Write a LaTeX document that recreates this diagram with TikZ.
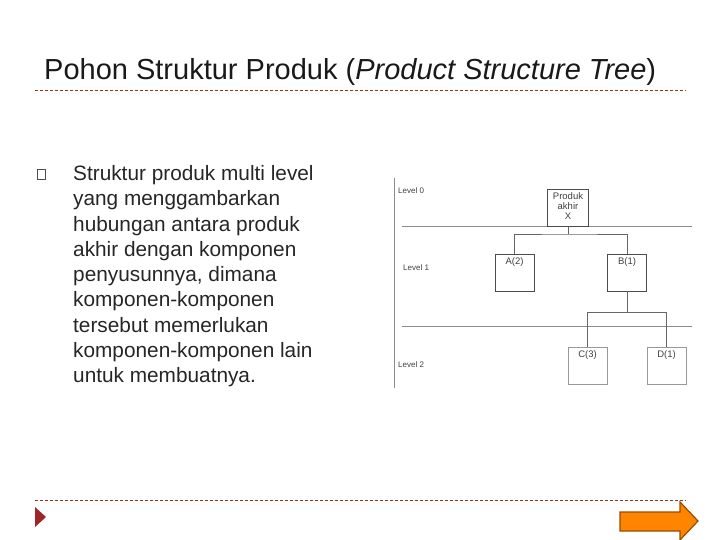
\documentclass[tikz,border=0pt]{standalone}
\usepackage{fontspec}
\setmainfont{Liberation Sans}
\begin{document}
\begin{tikzpicture}[x=1pt,y=-1pt,
  lvl/.style={font=\fontsize{8}{9}\selectfont,text=black!75,anchor=west,inner sep=0},
  bx/.style={draw=black!70,line width=0.7pt,minimum width=39pt,minimum height=37pt,inner sep=0},
  lbl/.style={font=\fontsize{9.5}{10}\selectfont,text=black!75},
  thin/.style={draw=black!45,line width=0.5pt},
  txt/.style={font=\fontsize{20.8}{24}\selectfont,anchor=base west,inner sep=0,text=black!85}]
\useasboundingbox (0,0) rectangle (720,540);
\node[anchor=base west,inner sep=0,font=\fontsize{29}{32}\selectfont,text=black!90] (title) at (44,80) {Pohon Struktur Produk (\textit{Product Structure Tree})};
\draw[draw=black!50!red!60!brown,dashed,dash pattern=on 3pt off 2pt,line width=0.5pt] (35,90) -- (686,90);
\draw[draw=black!50!red!60!brown,dashed,dash pattern=on 3pt off 2pt,line width=0.5pt] (35,500) -- (686,500);
\node[draw=black!70,line width=0.4pt,minimum width=8pt,minimum height=10pt,inner sep=0] (bul) at (41,174) {};
\node[txt] (t1) at (73,181) {Struktur produk multi level};
\node[txt] (t2) at (73,206) {yang menggambarkan};
\node[txt] (t3) at (73,231) {hubungan antara produk};
\node[txt] (t4) at (73,256) {akhir dengan komponen};
\node[txt] (t5) at (73,281) {penyusunnya, dimana};
\node[txt] (t6) at (73,306) {komponen-komponen};
\node[txt] (t7) at (73,332) {tersebut memerlukan};
\node[txt] (t8) at (73,357) {komponen-komponen lain};
\node[txt] (t9) at (73,382) {untuk membuatnya.};
% diagram
\draw[thin] (394,178) -- (394,388);
\node[lvl] (l0) at (398,191) {Level 0};
\node[lvl] (l1) at (403,268) {Level 1};
\node[lvl] (l2) at (398,365) {Level 2};
\draw[thin] (402,226) -- (692,226);
\draw[thin] (402,326) -- (692,326);
\node[bx,line width=1pt,minimum width=41pt] (x) at (568,208) {};
\node[lbl,align=center,anchor=north,inner sep=0] at (568,192) {Produk\\akhir\\X};
\node[bx] (a) at (514.5,272.5) {};
\node[lbl,anchor=north] at (a.north) {A(2)};
\node[bx] (b) at (627,272.5) {};
\node[lbl,anchor=north] at (b.north) {B(1)};
\node[bx,draw=black!40] (c) at (587.5,366) {};
\node[lbl,anchor=north] at (c.north) {C(3)};
\node[bx,draw=black!40] (d) at (666.5,366) {};
\node[lbl,anchor=north] at (d.north) {D(1)};
\draw[thin,draw=black!60] (x.south) -- ++(0,7) coordinate (j0);
\draw[thin,draw=black!60] (a.north) |- (j0) -| (b.north);
\draw[thin,draw=black!60] (b.south) -- ++(0,21) coordinate (j1);
\draw[thin,draw=black!60] (c.north) |- (j1) -| (d.north);
% footer
\fill[red!55!black!85] (35,507) coordinate (p1) -- (46,517) -- (35,527) -- cycle;
\draw[fill=orange!90!yellow!95!red,draw=orange!60!black,line width=1.2pt]
  (620,512) -- (680,512) -- (680,502) -- (698,521) -- (680,540) -- (680,531) -- (620,531) -- cycle;
\end{tikzpicture}
\end{document}
